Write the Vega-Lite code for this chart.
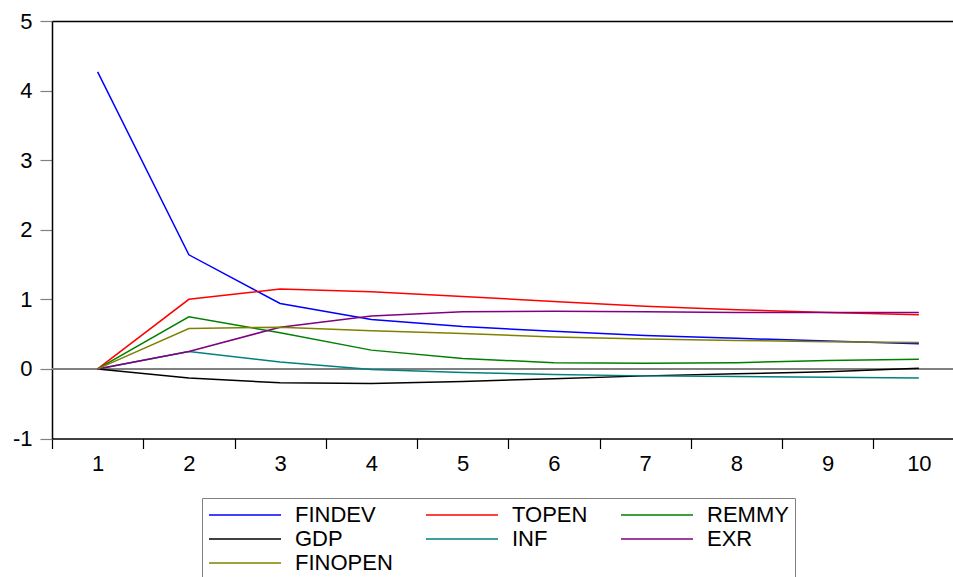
{
  "$schema": "https://vega.github.io/schema/vega-lite/v6.json",
  "autosize": "none",
  "width": 901,
  "height": 417.5,
  "padding": {"left": 52, "top": 21, "right": 0, "bottom": 138.5},
  "background": "white",
  "config": {
    "view": {"stroke": null},
    "font": "Liberation Sans",
    "axis": {"labelFont": "Liberation Sans", "labelFontSize": 22, "labelColor": "black", "grid": false}
  },
  "data": {
    "values": [
      {"period": 1, "series": "FINDEV", "value": 4.27},
      {"period": 2, "series": "FINDEV", "value": 1.64},
      {"period": 3, "series": "FINDEV", "value": 0.94},
      {"period": 4, "series": "FINDEV", "value": 0.71},
      {"period": 5, "series": "FINDEV", "value": 0.61},
      {"period": 6, "series": "FINDEV", "value": 0.54},
      {"period": 7, "series": "FINDEV", "value": 0.48},
      {"period": 8, "series": "FINDEV", "value": 0.44},
      {"period": 9, "series": "FINDEV", "value": 0.40},
      {"period": 10, "series": "FINDEV", "value": 0.36},
      {"period": 1, "series": "TOPEN", "value": 0},
      {"period": 2, "series": "TOPEN", "value": 1.00},
      {"period": 3, "series": "TOPEN", "value": 1.15},
      {"period": 4, "series": "TOPEN", "value": 1.11},
      {"period": 5, "series": "TOPEN", "value": 1.04},
      {"period": 6, "series": "TOPEN", "value": 0.97},
      {"period": 7, "series": "TOPEN", "value": 0.90},
      {"period": 8, "series": "TOPEN", "value": 0.85},
      {"period": 9, "series": "TOPEN", "value": 0.81},
      {"period": 10, "series": "TOPEN", "value": 0.78},
      {"period": 1, "series": "REMMY", "value": 0},
      {"period": 2, "series": "REMMY", "value": 0.75},
      {"period": 3, "series": "REMMY", "value": 0.52},
      {"period": 4, "series": "REMMY", "value": 0.27},
      {"period": 5, "series": "REMMY", "value": 0.15},
      {"period": 6, "series": "REMMY", "value": 0.09},
      {"period": 7, "series": "REMMY", "value": 0.08},
      {"period": 8, "series": "REMMY", "value": 0.09},
      {"period": 9, "series": "REMMY", "value": 0.12},
      {"period": 10, "series": "REMMY", "value": 0.14},
      {"period": 1, "series": "GDP", "value": 0},
      {"period": 2, "series": "GDP", "value": -0.13},
      {"period": 3, "series": "GDP", "value": -0.20},
      {"period": 4, "series": "GDP", "value": -0.21},
      {"period": 5, "series": "GDP", "value": -0.18},
      {"period": 6, "series": "GDP", "value": -0.14},
      {"period": 7, "series": "GDP", "value": -0.10},
      {"period": 8, "series": "GDP", "value": -0.07},
      {"period": 9, "series": "GDP", "value": -0.04},
      {"period": 10, "series": "GDP", "value": 0.01},
      {"period": 1, "series": "INF", "value": 0},
      {"period": 2, "series": "INF", "value": 0.25},
      {"period": 3, "series": "INF", "value": 0.10},
      {"period": 4, "series": "INF", "value": -0.01},
      {"period": 5, "series": "INF", "value": -0.05},
      {"period": 6, "series": "INF", "value": -0.08},
      {"period": 7, "series": "INF", "value": -0.10},
      {"period": 8, "series": "INF", "value": -0.11},
      {"period": 9, "series": "INF", "value": -0.12},
      {"period": 10, "series": "INF", "value": -0.13},
      {"period": 1, "series": "EXR", "value": 0},
      {"period": 2, "series": "EXR", "value": 0.25},
      {"period": 3, "series": "EXR", "value": 0.60},
      {"period": 4, "series": "EXR", "value": 0.76},
      {"period": 5, "series": "EXR", "value": 0.82},
      {"period": 6, "series": "EXR", "value": 0.83},
      {"period": 7, "series": "EXR", "value": 0.82},
      {"period": 8, "series": "EXR", "value": 0.81},
      {"period": 9, "series": "EXR", "value": 0.81},
      {"period": 10, "series": "EXR", "value": 0.81},
      {"period": 1, "series": "FINOPEN", "value": 0},
      {"period": 2, "series": "FINOPEN", "value": 0.58},
      {"period": 3, "series": "FINOPEN", "value": 0.60},
      {"period": 4, "series": "FINOPEN", "value": 0.55},
      {"period": 5, "series": "FINOPEN", "value": 0.51},
      {"period": 6, "series": "FINOPEN", "value": 0.46},
      {"period": 7, "series": "FINOPEN", "value": 0.43},
      {"period": 8, "series": "FINOPEN", "value": 0.41},
      {"period": 9, "series": "FINOPEN", "value": 0.39},
      {"period": 10, "series": "FINOPEN", "value": 0.38}
    ]
  },
  "layer": [
    {
      "mark": {"type": "rule", "color": "#808080", "strokeWidth": 1},
      "encoding": {
        "y": {"datum": 0, "type": "quantitative"},
        "x": {"datum": 0.5, "type": "quantitative", "axis": {"orient": "top", "labels": false, "ticks": false, "domain": true, "domainColor": "black", "domainWidth": 1.5, "title": null}},
        "x2": {"datum": 10.374}
      }
    },
    {
      "mark": {"type": "line", "strokeWidth": 1.5, "clip": true},
      "encoding": {
        "x": {
          "field": "period", "type": "quantitative",
          "scale": {"domain": [0.5, 10.374], "nice": false, "zero": false},
          "axis": {
            "orient": "bottom", "title": null, "values": [1,2,3,4,5,6,7,8,9,10],
            "tickOffset": -45.6, "labelOffset": 45.6,
            "tickSize": 10, "tickColor": "black", "tickWidth": 1.2,
            "domainColor": "black", "domainWidth": 1.5,
            "labelPadding": 5, "labelFlush": false, "labelOverlap": false
          }
        },
        "y": {
          "field": "value", "type": "quantitative",
          "scale": {"domain": [-1, 5], "nice": false, "zero": false},
          "axis": {
            "title": null, "values": [-1,0,1,2,3,4,5], "labelExpr": "'' + datum.value",
            "tickSize": 12, "tickColor": "#808080", "tickWidth": 1.2,
            "domainColor": "black", "domainWidth": 1.5,
            "labelPadding": 8, "labelFlush": false, "labelOverlap": false
          }
        },
        "color": {
          "field": "series", "type": "nominal",
          "scale": {
            "domain": ["FINDEV", "TOPEN", "REMMY", "GDP", "INF", "EXR", "FINOPEN"],
            "range": ["#0000FF", "#FF0000", "#008000", "#000000", "#008080", "#800080", "#808000"]
          },
          "legend": {
            "title": null, "orient": "none", "legendX": 150, "legendY": 477,
            "direction": "horizontal", "columns": 3,
            "symbolType": "M-1,0H6.2", "symbolSize": 400, "symbolStrokeWidth": 1.5,
            "labelFont": "Liberation Sans", "labelFontSize": 22, "labelColor": "black",
            "labelOffset": 65, "columnPadding": 30, "rowPadding": 2,
            "strokeColor": "#808080", "padding": 6, "fillColor": "white"
          }
        }
      }
    }
  ],
  "resolve": {"axis": {"x": "independent"}}
}
